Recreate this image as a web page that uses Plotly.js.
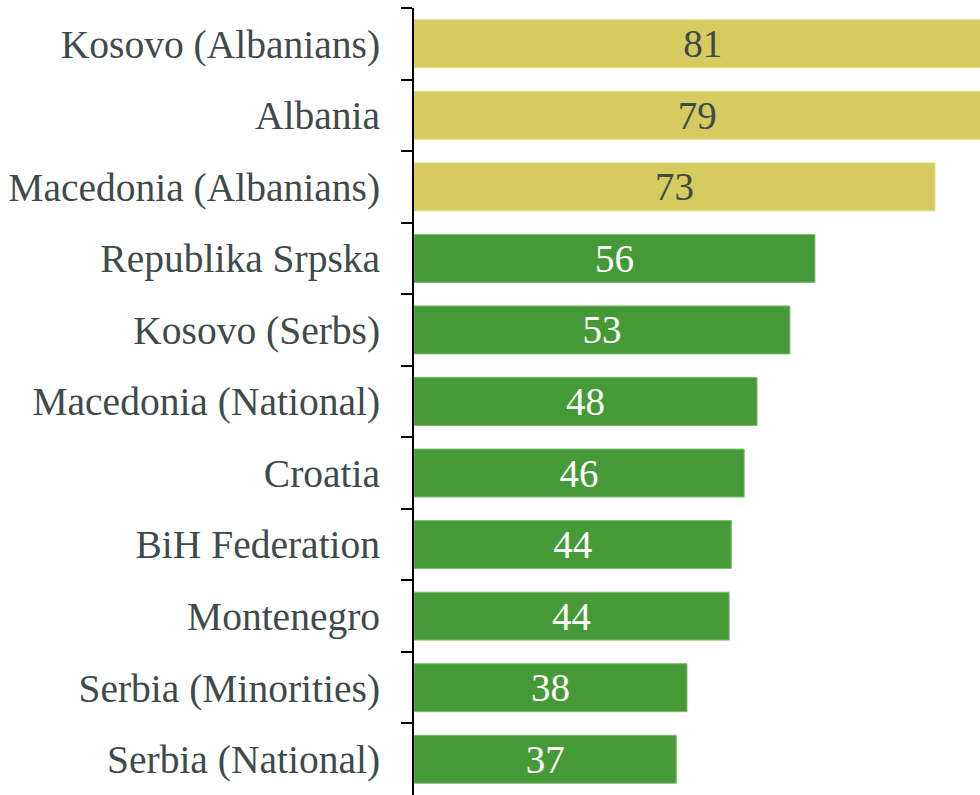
<!DOCTYPE html>
<html>
<head>
<meta charset="utf-8">
<script src="https://cdn.plot.ly/plotly-3.0.1.min.js"></script>
<style>html,body{margin:0;padding:0;background:#fff;}#chart{width:980px;height:795px;}</style>
</head>
<body>
<div id="chart"></div>
<script>
const categories = ["Kosovo (Albanians)", "Albania", "Macedonia (Albanians)", "Republika Srpska", "Kosovo (Serbs)", "Macedonia (National)", "Croatia", "BiH Federation", "Montenegro", "Serbia (Minorities)", "Serbia (National)"];
const values = [80.8, 79.3, 72.9, 56.1, 52.6, 48.0, 46.2, 44.4, 44.1, 38.2, 36.7];
const groups = ["albanian", "albanian", "albanian", "other", "other", "other", "other", "other", "other", "other", "other"];

const barColors = groups.map(g => g === "albanian" ? "#D6CB5F" : "#459A37");
const textColors = groups.map(g => g === "albanian" ? "#3F4A4A" : "#FFFFFF");
const edgeColors = groups.map(g => g === "albanian" ? "#E2DA8C" : "#7DBA70");

const trace = {
  type: "bar",
  orientation: "h",
  y: categories,
  x: values,
  text: values.map(v => String(Math.round(v))),
  textposition: "inside",
  insidetextanchor: "middle",
  constraintext: "none",
  textangle: 0,
  textfont: {family: "Liberation Serif, serif", size: 39, color: textColors},
  marker: {color: barColors, line: {color: edgeColors, width: 1}},
  hoverinfo: "none",
  cliponaxis: true
};

const layout = {
  width: 980,
  height: 795,
  margin: {l: 414, r: 0, t: 8, b: 0, pad: 0},
  paper_bgcolor: "#fff",
  plot_bgcolor: "#fff",
  showlegend: false,
  bargap: 0.33,
  xaxis: {
    range: [0, 79.2],
    visible: false,
    fixedrange: true
  },
  yaxis: {
    type: "category",
    autorange: "reversed",
    showline: true,
    linecolor: "#000",
    linewidth: 2,
    ticks: "outside",
    tickson: "boundaries",
    ticklen: 11,
    tickwidth: 2,
    tickcolor: "#000",
    ticklabelstandoff: 24,
    showgrid: false,
    zeroline: false,
    tickfont: {family: "Liberation Serif, serif", size: 39.5, color: "#3F4A4A"},
    fixedrange: true
  },
  font: {family: "Liberation Serif, serif"}
};

Plotly.newPlot("chart", [trace], layout, {displayModeBar: false, staticPlot: true});
</script>
</body>
</html>
